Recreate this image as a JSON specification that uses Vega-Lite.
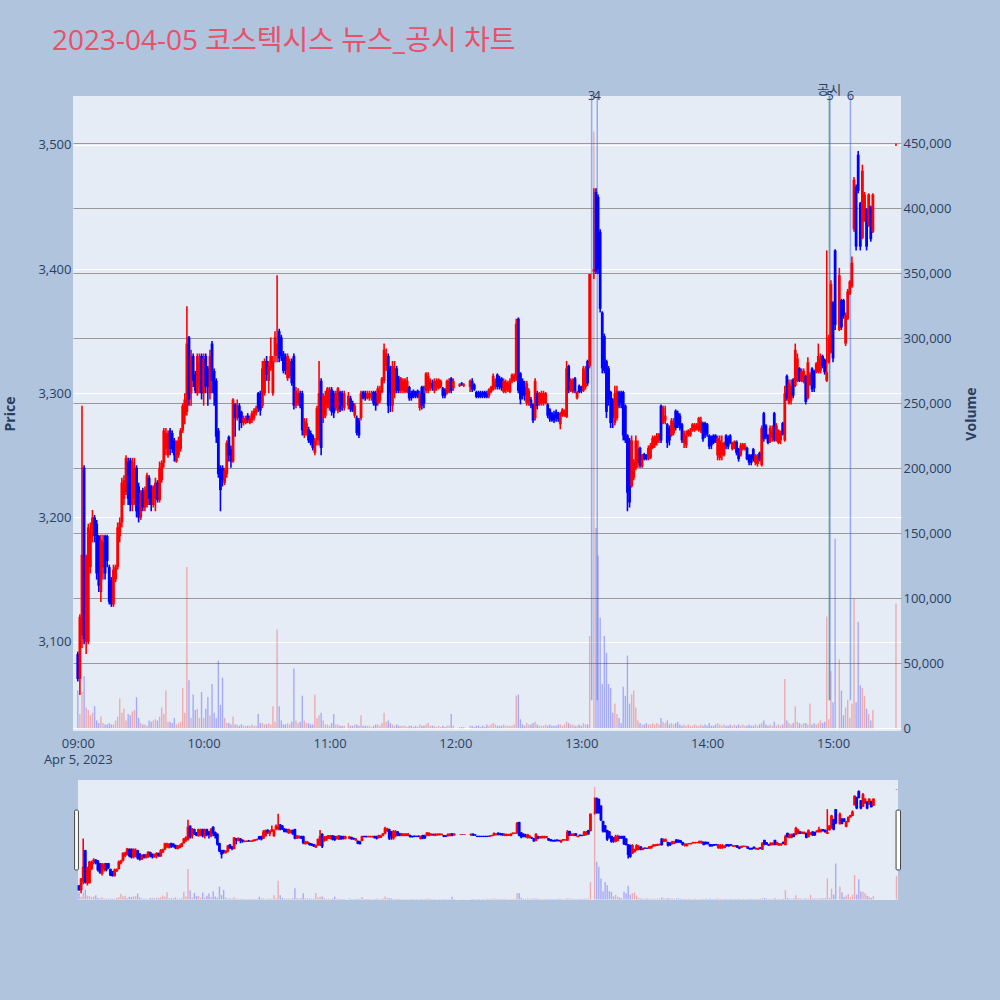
{
"$schema": "https://vega.github.io/schema/vega-lite/v6.json",
"background": "#b0c4de",
"padding": {"left": 3, "top": 28, "right": 30, "bottom": 110},
"title": {"text": "2023-04-05 코스텍시스 뉴스_공시 차트", "anchor": "start", "frame": "bounds", "fontSize": 28, "fontWeight": "normal", "color": "#e9506a", "font": "Open Sans, Noto Sans CJK KR", "offset": 28, "dx": 48},
"config": {"font": "Open Sans, Noto Sans CJK KR", "view": {"stroke": null}},
"data": {"values": [
{"t":"09:00","o":3090,"h":3092,"l":3068,"c":3070,"v":29000},
{"t":"09:01","o":3070,"h":3122,"l":3057,"c":3120,"v":11000},
{"t":"09:02","o":3105,"h":3290,"l":3095,"c":3170,"v":28000},
{"t":"09:03","o":3240,"h":3242,"l":3098,"c":3102,"v":40000},
{"t":"09:04","o":3100,"h":3170,"l":3090,"c":3168,"v":16000},
{"t":"09:05","o":3100,"h":3195,"l":3098,"c":3192,"v":14000},
{"t":"09:06","o":3160,"h":3196,"l":3155,"c":3190,"v":10000},
{"t":"09:07","o":3190,"h":3206,"l":3180,"c":3200,"v":12000},
{"t":"09:08","o":3200,"h":3202,"l":3180,"c":3185,"v":17000},
{"t":"09:09","o":3195,"h":3198,"l":3150,"c":3155,"v":6000},
{"t":"09:10","o":3185,"h":3186,"l":3140,"c":3145,"v":4000},
{"t":"09:11","o":3140,"h":3186,"l":3132,"c":3182,"v":9000},
{"t":"09:12","o":3160,"h":3186,"l":3150,"c":3180,"v":4000},
{"t":"09:13","o":3185,"h":3186,"l":3150,"c":3155,"v":3000},
{"t":"09:14","o":3185,"h":3186,"l":3160,"c":3165,"v":3000},
{"t":"09:15","o":3160,"h":3162,"l":3130,"c":3132,"v":4000},
{"t":"09:16","o":3150,"h":3152,"l":3128,"c":3130,"v":3000},
{"t":"09:17","o":3130,"h":3162,"l":3128,"c":3158,"v":3000},
{"t":"09:18","o":3150,"h":3162,"l":3148,"c":3160,"v":6000},
{"t":"09:19","o":3160,"h":3196,"l":3158,"c":3192,"v":9000},
{"t":"09:20","o":3185,"h":3200,"l":3180,"c":3196,"v":23000},
{"t":"09:21","o":3196,"h":3232,"l":3192,"c":3228,"v":12000},
{"t":"09:22","o":3215,"h":3234,"l":3210,"c":3230,"v":15000},
{"t":"09:23","o":3220,"h":3250,"l":3218,"c":3248,"v":6000},
{"t":"09:24","o":3245,"h":3248,"l":3210,"c":3215,"v":11000},
{"t":"09:25","o":3246,"h":3248,"l":3205,"c":3210,"v":10000},
{"t":"09:26","o":3210,"h":3248,"l":3205,"c":3245,"v":13000},
{"t":"09:27","o":3215,"h":3248,"l":3210,"c":3240,"v":14000},
{"t":"09:28","o":3240,"h":3242,"l":3200,"c":3205,"v":24000},
{"t":"09:29","o":3225,"h":3228,"l":3196,"c":3200,"v":8000},
{"t":"09:30","o":3200,"h":3222,"l":3198,"c":3220,"v":4000},
{"t":"09:31","o":3222,"h":3224,"l":3205,"c":3208,"v":3000},
{"t":"09:32","o":3208,"h":3225,"l":3205,"c":3222,"v":3000},
{"t":"09:33","o":3210,"h":3236,"l":3208,"c":3234,"v":2000},
{"t":"09:34","o":3232,"h":3234,"l":3210,"c":3215,"v":6000},
{"t":"09:35","o":3225,"h":3226,"l":3205,"c":3210,"v":5000},
{"t":"09:36","o":3210,"h":3226,"l":3208,"c":3224,"v":6000},
{"t":"09:37","o":3215,"h":3232,"l":3205,"c":3228,"v":7000},
{"t":"09:38","o":3228,"h":3230,"l":3212,"c":3214,"v":6000},
{"t":"09:39","o":3214,"h":3245,"l":3212,"c":3240,"v":9000},
{"t":"09:40","o":3230,"h":3246,"l":3228,"c":3244,"v":16000},
{"t":"09:41","o":3244,"h":3272,"l":3240,"c":3270,"v":11000},
{"t":"09:42","o":3255,"h":3272,"l":3250,"c":3268,"v":29000},
{"t":"09:43","o":3250,"h":3270,"l":3248,"c":3268,"v":5000},
{"t":"09:44","o":3270,"h":3272,"l":3250,"c":3255,"v":5000},
{"t":"09:45","o":3268,"h":3270,"l":3252,"c":3255,"v":4000},
{"t":"09:46","o":3262,"h":3264,"l":3245,"c":3250,"v":8000},
{"t":"09:47","o":3245,"h":3262,"l":3244,"c":3258,"v":3000},
{"t":"09:48","o":3250,"h":3265,"l":3248,"c":3262,"v":4000},
{"t":"09:49","o":3255,"h":3272,"l":3253,"c":3270,"v":5000},
{"t":"09:50","o":3270,"h":3292,"l":3268,"c":3290,"v":31000},
{"t":"09:51","o":3282,"h":3300,"l":3275,"c":3295,"v":12000},
{"t":"09:52","o":3285,"h":3370,"l":3282,"c":3340,"v":124000},
{"t":"09:53","o":3345,"h":3346,"l":3290,"c":3295,"v":37000},
{"t":"09:54","o":3300,"h":3335,"l":3290,"c":3330,"v":8000},
{"t":"09:55","o":3330,"h":3332,"l":3305,"c":3310,"v":26000},
{"t":"09:56","o":3315,"h":3318,"l":3300,"c":3302,"v":14000},
{"t":"09:57","o":3300,"h":3332,"l":3298,"c":3330,"v":15000},
{"t":"09:58","o":3305,"h":3332,"l":3300,"c":3325,"v":8000},
{"t":"09:59","o":3330,"h":3332,"l":3295,"c":3300,"v":28000},
{"t":"10:00","o":3300,"h":3332,"l":3290,"c":3328,"v":8000},
{"t":"10:01","o":3330,"h":3332,"l":3300,"c":3305,"v":15000},
{"t":"10:02","o":3320,"h":3322,"l":3290,"c":3305,"v":24000},
{"t":"10:03","o":3300,"h":3335,"l":3295,"c":3330,"v":10000},
{"t":"10:04","o":3340,"h":3342,"l":3300,"c":3310,"v":34000},
{"t":"10:05","o":3318,"h":3320,"l":3290,"c":3300,"v":12000},
{"t":"10:06","o":3310,"h":3312,"l":3260,"c":3265,"v":8000},
{"t":"10:07","o":3270,"h":3272,"l":3232,"c":3235,"v":52000},
{"t":"10:08","o":3240,"h":3242,"l":3205,"c":3222,"v":18000},
{"t":"10:09","o":3240,"h":3242,"l":3225,"c":3230,"v":39000},
{"t":"10:10","o":3228,"h":3240,"l":3226,"c":3238,"v":8000},
{"t":"10:11","o":3235,"h":3262,"l":3232,"c":3260,"v":4000},
{"t":"10:12","o":3265,"h":3266,"l":3245,"c":3250,"v":4000},
{"t":"10:13","o":3255,"h":3258,"l":3240,"c":3245,"v":3000},
{"t":"10:14","o":3245,"h":3296,"l":3244,"c":3295,"v":9000},
{"t":"10:15","o":3291,"h":3292,"l":3265,"c":3280,"v":3000},
{"t":"10:16","o":3280,"h":3295,"l":3278,"c":3290,"v":3000},
{"t":"10:17","o":3290,"h":3292,"l":3270,"c":3280,"v":2000},
{"t":"10:18","o":3285,"h":3286,"l":3272,"c":3276,"v":3000},
{"t":"10:19","o":3276,"h":3282,"l":3274,"c":3280,"v":2000},
{"t":"10:20","o":3276,"h":3282,"l":3275,"c":3280,"v":2000},
{"t":"10:21","o":3282,"h":3284,"l":3276,"c":3278,"v":2000},
{"t":"10:22","o":3276,"h":3282,"l":3275,"c":3280,"v":2000},
{"t":"10:23","o":3278,"h":3286,"l":3276,"c":3284,"v":3000},
{"t":"10:24","o":3280,"h":3288,"l":3278,"c":3286,"v":2000},
{"t":"10:25","o":3284,"h":3290,"l":3282,"c":3288,"v":2000},
{"t":"10:26","o":3300,"h":3301,"l":3285,"c":3288,"v":11000},
{"t":"10:27","o":3300,"h":3302,"l":3282,"c":3286,"v":4000},
{"t":"10:28","o":3290,"h":3326,"l":3288,"c":3320,"v":4000},
{"t":"10:29","o":3300,"h":3328,"l":3298,"c":3326,"v":3000},
{"t":"10:30","o":3326,"h":3330,"l":3310,"c":3315,"v":3000},
{"t":"10:31","o":3310,"h":3326,"l":3300,"c":3322,"v":4000},
{"t":"10:32","o":3320,"h":3345,"l":3318,"c":3330,"v":3000},
{"t":"10:33","o":3300,"h":3330,"l":3298,"c":3326,"v":17000},
{"t":"10:34","o":3330,"h":3350,"l":3325,"c":3345,"v":5000},
{"t":"10:35","o":3330,"h":3395,"l":3325,"c":3340,"v":76000},
{"t":"10:36","o":3350,"h":3352,"l":3325,"c":3328,"v":17000},
{"t":"10:37","o":3345,"h":3347,"l":3326,"c":3330,"v":6000},
{"t":"10:38","o":3332,"h":3334,"l":3316,"c":3318,"v":3000},
{"t":"10:39","o":3330,"h":3332,"l":3315,"c":3318,"v":3000},
{"t":"10:40","o":3312,"h":3332,"l":3310,"c":3330,"v":4000},
{"t":"10:41","o":3314,"h":3328,"l":3312,"c":3326,"v":3000},
{"t":"10:42","o":3326,"h":3328,"l":3306,"c":3308,"v":5000},
{"t":"10:43","o":3330,"h":3332,"l":3287,"c":3290,"v":46000},
{"t":"10:44","o":3290,"h":3305,"l":3288,"c":3302,"v":6000},
{"t":"10:45","o":3292,"h":3304,"l":3290,"c":3300,"v":4000},
{"t":"10:46","o":3300,"h":3302,"l":3288,"c":3290,"v":5000},
{"t":"10:47","o":3300,"h":3302,"l":3266,"c":3270,"v":25000},
{"t":"10:48","o":3266,"h":3280,"l":3264,"c":3278,"v":6000},
{"t":"10:49","o":3268,"h":3280,"l":3266,"c":3276,"v":4000},
{"t":"10:50","o":3271,"h":3273,"l":3260,"c":3262,"v":4000},
{"t":"10:51","o":3268,"h":3270,"l":3258,"c":3260,"v":3000},
{"t":"10:52","o":3266,"h":3267,"l":3254,"c":3256,"v":3000},
{"t":"10:53","o":3252,"h":3264,"l":3250,"c":3262,"v":26000},
{"t":"10:54","o":3262,"h":3290,"l":3258,"c":3288,"v":8000},
{"t":"10:55","o":3262,"h":3326,"l":3258,"c":3300,"v":10000},
{"t":"10:56","o":3310,"h":3312,"l":3250,"c":3256,"v":12000},
{"t":"10:57","o":3280,"h":3300,"l":3276,"c":3298,"v":6000},
{"t":"10:58","o":3282,"h":3302,"l":3280,"c":3298,"v":3000},
{"t":"10:59","o":3290,"h":3305,"l":3288,"c":3304,"v":3000},
{"t":"11:00","o":3288,"h":3305,"l":3286,"c":3302,"v":2000},
{"t":"11:01","o":3303,"h":3305,"l":3282,"c":3285,"v":4000},
{"t":"11:02","o":3300,"h":3302,"l":3280,"c":3284,"v":11000},
{"t":"11:03","o":3288,"h":3302,"l":3286,"c":3300,"v":3000},
{"t":"11:04","o":3286,"h":3305,"l":3284,"c":3304,"v":3000},
{"t":"11:05","o":3301,"h":3302,"l":3285,"c":3287,"v":2000},
{"t":"11:06","o":3300,"h":3302,"l":3286,"c":3290,"v":2000},
{"t":"11:07","o":3288,"h":3302,"l":3286,"c":3300,"v":2000},
{"t":"11:09","o":3290,"h":3301,"l":3287,"c":3298,"v":4000},
{"t":"11:10","o":3296,"h":3298,"l":3285,"c":3287,"v":2000},
{"t":"11:11","o":3292,"h":3294,"l":3285,"c":3286,"v":2000},
{"t":"11:12","o":3282,"h":3292,"l":3280,"c":3290,"v":3000},
{"t":"11:13","o":3280,"h":3282,"l":3266,"c":3268,"v":3000},
{"t":"11:14","o":3278,"h":3280,"l":3264,"c":3266,"v":2000},
{"t":"11:15","o":3280,"h":3302,"l":3278,"c":3300,"v":10000},
{"t":"11:16","o":3301,"h":3302,"l":3295,"c":3296,"v":2000},
{"t":"11:17","o":3300,"h":3302,"l":3294,"c":3296,"v":2000},
{"t":"11:18","o":3296,"h":3302,"l":3295,"c":3300,"v":2000},
{"t":"11:19","o":3296,"h":3302,"l":3294,"c":3300,"v":2000},
{"t":"11:20","o":3298,"h":3302,"l":3294,"c":3300,"v":1000},
{"t":"11:21","o":3301,"h":3302,"l":3290,"c":3292,"v":2000},
{"t":"11:22","o":3300,"h":3302,"l":3286,"c":3290,"v":3000},
{"t":"11:23","o":3292,"h":3306,"l":3290,"c":3304,"v":3000},
{"t":"11:24","o":3294,"h":3306,"l":3292,"c":3302,"v":2000},
{"t":"11:25","o":3301,"h":3313,"l":3300,"c":3312,"v":4000},
{"t":"11:26","o":3310,"h":3340,"l":3308,"c":3335,"v":12000},
{"t":"11:27","o":3322,"h":3336,"l":3318,"c":3332,"v":5000},
{"t":"11:28","o":3330,"h":3332,"l":3284,"c":3290,"v":6000},
{"t":"11:29","o":3320,"h":3322,"l":3285,"c":3300,"v":4000},
{"t":"11:30","o":3290,"h":3326,"l":3285,"c":3322,"v":3000},
{"t":"11:31","o":3300,"h":3326,"l":3296,"c":3320,"v":2000},
{"t":"11:32","o":3320,"h":3322,"l":3300,"c":3302,"v":3000},
{"t":"11:33","o":3312,"h":3314,"l":3300,"c":3302,"v":2000},
{"t":"11:34","o":3302,"h":3313,"l":3300,"c":3312,"v":2000},
{"t":"11:35","o":3302,"h":3312,"l":3300,"c":3310,"v":2000},
{"t":"11:36","o":3301,"h":3312,"l":3300,"c":3311,"v":2000},
{"t":"11:37","o":3301,"h":3313,"l":3300,"c":3310,"v":1000},
{"t":"11:38","o":3305,"h":3306,"l":3294,"c":3296,"v":2000},
{"t":"11:39","o":3300,"h":3302,"l":3294,"c":3296,"v":2000},
{"t":"11:40","o":3302,"h":3303,"l":3296,"c":3297,"v":1000},
{"t":"11:41","o":3301,"h":3302,"l":3296,"c":3298,"v":2000},
{"t":"11:42","o":3302,"h":3303,"l":3296,"c":3297,"v":1000},
{"t":"11:43","o":3288,"h":3302,"l":3286,"c":3300,"v":3000},
{"t":"11:44","o":3305,"h":3306,"l":3287,"c":3290,"v":2000},
{"t":"11:45","o":3300,"h":3306,"l":3288,"c":3292,"v":2000},
{"t":"11:46","o":3302,"h":3317,"l":3300,"c":3316,"v":3000},
{"t":"11:47","o":3302,"h":3317,"l":3300,"c":3314,"v":4000},
{"t":"11:48","o":3304,"h":3312,"l":3302,"c":3310,"v":2000},
{"t":"11:49","o":3308,"h":3311,"l":3302,"c":3304,"v":2000},
{"t":"11:50","o":3302,"h":3312,"l":3300,"c":3310,"v":2000},
{"t":"11:51","o":3304,"h":3312,"l":3302,"c":3310,"v":1000},
{"t":"11:52","o":3304,"h":3312,"l":3303,"c":3311,"v":2000},
{"t":"11:53","o":3305,"h":3311,"l":3304,"c":3310,"v":1000},
{"t":"11:54","o":3304,"h":3305,"l":3296,"c":3298,"v":2000},
{"t":"11:55","o":3303,"h":3304,"l":3296,"c":3298,"v":1000},
{"t":"11:56","o":3300,"h":3311,"l":3299,"c":3310,"v":2000},
{"t":"11:57","o":3301,"h":3312,"l":3300,"c":3310,"v":2000},
{"t":"11:58","o":3312,"h":3313,"l":3300,"c":3302,"v":11000},
{"t":"11:59","o":3304,"h":3312,"l":3302,"c":3310,"v":2000},
{"t":"12:02","o":3306,"h":3308,"l":3305,"c":3307,"v":1000},
{"t":"12:03","o":3308,"h":3309,"l":3306,"c":3307,"v":1000},
{"t":"12:04","o":3306,"h":3308,"l":3305,"c":3307,"v":1000},
{"t":"12:07","o":3305,"h":3311,"l":3301,"c":3310,"v":2000},
{"t":"12:08","o":3310,"h":3312,"l":3301,"c":3303,"v":2000},
{"t":"12:09","o":3307,"h":3308,"l":3302,"c":3303,"v":1000},
{"t":"12:10","o":3301,"h":3302,"l":3296,"c":3297,"v":2000},
{"t":"12:11","o":3301,"h":3302,"l":3296,"c":3297,"v":2000},
{"t":"12:12","o":3300,"h":3302,"l":3296,"c":3297,"v":1000},
{"t":"12:13","o":3301,"h":3302,"l":3296,"c":3298,"v":2000},
{"t":"12:14","o":3301,"h":3302,"l":3296,"c":3297,"v":1000},
{"t":"12:15","o":3300,"h":3302,"l":3296,"c":3297,"v":3000},
{"t":"12:16","o":3298,"h":3304,"l":3296,"c":3303,"v":2000},
{"t":"12:17","o":3301,"h":3306,"l":3300,"c":3305,"v":3000},
{"t":"12:18","o":3303,"h":3316,"l":3302,"c":3314,"v":4000},
{"t":"12:19","o":3305,"h":3312,"l":3303,"c":3310,"v":3000},
{"t":"12:20","o":3315,"h":3316,"l":3303,"c":3305,"v":2000},
{"t":"12:21","o":3312,"h":3314,"l":3303,"c":3305,"v":2000},
{"t":"12:22","o":3312,"h":3313,"l":3302,"c":3304,"v":2000},
{"t":"12:23","o":3301,"h":3312,"l":3300,"c":3310,"v":3000},
{"t":"12:24","o":3302,"h":3311,"l":3300,"c":3309,"v":2000},
{"t":"12:25","o":3303,"h":3310,"l":3301,"c":3308,"v":2000},
{"t":"12:26","o":3301,"h":3312,"l":3300,"c":3310,"v":2000},
{"t":"12:27","o":3310,"h":3316,"l":3308,"c":3315,"v":2000},
{"t":"12:28","o":3310,"h":3316,"l":3309,"c":3314,"v":3000},
{"t":"12:29","o":3312,"h":3360,"l":3310,"c":3356,"v":25000},
{"t":"12:30","o":3360,"h":3361,"l":3300,"c":3302,"v":26000},
{"t":"12:31","o":3316,"h":3317,"l":3291,"c":3295,"v":7000},
{"t":"12:32","o":3310,"h":3312,"l":3295,"c":3298,"v":3000},
{"t":"12:33","o":3305,"h":3310,"l":3294,"c":3298,"v":2000},
{"t":"12:34","o":3292,"h":3310,"l":3290,"c":3308,"v":4000},
{"t":"12:35","o":3294,"h":3304,"l":3290,"c":3302,"v":3000},
{"t":"12:36","o":3295,"h":3297,"l":3288,"c":3290,"v":3000},
{"t":"12:37","o":3291,"h":3292,"l":3276,"c":3278,"v":4000},
{"t":"12:38","o":3280,"h":3312,"l":3278,"c":3310,"v":5000},
{"t":"12:39","o":3300,"h":3302,"l":3287,"c":3290,"v":3000},
{"t":"12:40","o":3291,"h":3301,"l":3290,"c":3300,"v":2000},
{"t":"12:41","o":3292,"h":3302,"l":3290,"c":3300,"v":2000},
{"t":"12:42","o":3292,"h":3302,"l":3290,"c":3300,"v":2000},
{"t":"12:43","o":3292,"h":3301,"l":3291,"c":3300,"v":3000},
{"t":"12:44","o":3291,"h":3292,"l":3280,"c":3282,"v":2000},
{"t":"12:45","o":3287,"h":3288,"l":3277,"c":3279,"v":3000},
{"t":"12:46","o":3284,"h":3285,"l":3277,"c":3278,"v":2000},
{"t":"12:47","o":3283,"h":3286,"l":3276,"c":3278,"v":2000},
{"t":"12:48","o":3285,"h":3287,"l":3277,"c":3280,"v":2000},
{"t":"12:49","o":3284,"h":3285,"l":3277,"c":3279,"v":3000},
{"t":"12:50","o":3275,"h":3285,"l":3271,"c":3284,"v":3000},
{"t":"12:51","o":3282,"h":3288,"l":3281,"c":3287,"v":2000},
{"t":"12:52","o":3282,"h":3287,"l":3281,"c":3286,"v":3000},
{"t":"12:53","o":3281,"h":3326,"l":3280,"c":3320,"v":5000},
{"t":"12:54","o":3322,"h":3323,"l":3300,"c":3302,"v":4000},
{"t":"12:55","o":3302,"h":3312,"l":3301,"c":3310,"v":3000},
{"t":"12:56","o":3301,"h":3312,"l":3300,"c":3311,"v":3000},
{"t":"12:57","o":3312,"h":3313,"l":3300,"c":3302,"v":2000},
{"t":"12:58","o":3296,"h":3302,"l":3295,"c":3301,"v":2000},
{"t":"12:59","o":3306,"h":3307,"l":3300,"c":3301,"v":3000},
{"t":"13:00","o":3305,"h":3306,"l":3300,"c":3302,"v":2000},
{"t":"13:01","o":3302,"h":3322,"l":3301,"c":3320,"v":4000},
{"t":"13:02","o":3305,"h":3322,"l":3303,"c":3318,"v":3000},
{"t":"13:03","o":3326,"h":3327,"l":3306,"c":3308,"v":3000},
{"t":"13:04","o":3322,"h":3396,"l":3320,"c":3396,"v":71000},
{"t":"13:06","o":3398,"h":3465,"l":3392,"c":3400,"v":459000},
{"t":"13:07","o":3462,"h":3465,"l":3396,"c":3398,"v":154000},
{"t":"13:08","o":3458,"h":3460,"l":3396,"c":3400,"v":133000},
{"t":"13:09","o":3430,"h":3432,"l":3365,"c":3368,"v":85000},
{"t":"13:10","o":3365,"h":3366,"l":3316,"c":3320,"v":34000},
{"t":"13:11","o":3346,"h":3348,"l":3316,"c":3318,"v":71000},
{"t":"13:12","o":3326,"h":3327,"l":3280,"c":3285,"v":58000},
{"t":"13:13","o":3320,"h":3322,"l":3290,"c":3295,"v":34000},
{"t":"13:14","o":3301,"h":3302,"l":3272,"c":3276,"v":31000},
{"t":"13:15","o":3295,"h":3296,"l":3272,"c":3280,"v":12000},
{"t":"13:16","o":3276,"h":3306,"l":3274,"c":3300,"v":19000},
{"t":"13:17","o":3280,"h":3306,"l":3278,"c":3302,"v":11000},
{"t":"13:18","o":3301,"h":3302,"l":3288,"c":3290,"v":8000},
{"t":"13:19","o":3300,"h":3302,"l":3288,"c":3292,"v":4000},
{"t":"13:20","o":3301,"h":3302,"l":3262,"c":3266,"v":32000},
{"t":"13:21","o":3290,"h":3291,"l":3260,"c":3262,"v":25000},
{"t":"13:22","o":3266,"h":3267,"l":3205,"c":3220,"v":56000},
{"t":"13:23","o":3262,"h":3264,"l":3208,"c":3212,"v":19000},
{"t":"13:24","o":3225,"h":3266,"l":3224,"c":3262,"v":26000},
{"t":"13:25","o":3232,"h":3247,"l":3230,"c":3245,"v":29000},
{"t":"13:26","o":3240,"h":3266,"l":3238,"c":3262,"v":16000},
{"t":"13:27","o":3244,"h":3262,"l":3240,"c":3255,"v":6000},
{"t":"13:28","o":3256,"h":3257,"l":3240,"c":3242,"v":4000},
{"t":"13:29","o":3241,"h":3251,"l":3240,"c":3250,"v":3000},
{"t":"13:30","o":3251,"h":3252,"l":3246,"c":3247,"v":3000},
{"t":"13:31","o":3250,"h":3251,"l":3246,"c":3247,"v":4000},
{"t":"13:32","o":3247,"h":3258,"l":3246,"c":3256,"v":3000},
{"t":"13:33","o":3248,"h":3260,"l":3247,"c":3258,"v":3000},
{"t":"13:34","o":3256,"h":3266,"l":3255,"c":3264,"v":4000},
{"t":"13:35","o":3258,"h":3266,"l":3256,"c":3265,"v":3000},
{"t":"13:36","o":3260,"h":3268,"l":3258,"c":3266,"v":4000},
{"t":"13:37","o":3262,"h":3268,"l":3260,"c":3267,"v":3000},
{"t":"13:38","o":3290,"h":3291,"l":3260,"c":3262,"v":8000},
{"t":"13:39","o":3276,"h":3290,"l":3275,"c":3288,"v":5000},
{"t":"13:40","o":3278,"h":3290,"l":3275,"c":3282,"v":4000},
{"t":"13:41","o":3275,"h":3276,"l":3256,"c":3260,"v":6000},
{"t":"13:42","o":3272,"h":3274,"l":3258,"c":3262,"v":3000},
{"t":"13:43","o":3266,"h":3280,"l":3265,"c":3278,"v":4000},
{"t":"13:44","o":3268,"h":3280,"l":3266,"c":3276,"v":3000},
{"t":"13:45","o":3286,"h":3287,"l":3270,"c":3272,"v":4000},
{"t":"13:46","o":3284,"h":3286,"l":3272,"c":3274,"v":5000},
{"t":"13:47","o":3282,"h":3284,"l":3270,"c":3272,"v":3000},
{"t":"13:48","o":3275,"h":3276,"l":3260,"c":3262,"v":2000},
{"t":"13:49","o":3260,"h":3270,"l":3256,"c":3268,"v":3000},
{"t":"13:50","o":3258,"h":3270,"l":3256,"c":3266,"v":2000},
{"t":"13:51","o":3266,"h":3271,"l":3265,"c":3270,"v":3000},
{"t":"13:52","o":3266,"h":3272,"l":3265,"c":3270,"v":2000},
{"t":"13:53","o":3270,"h":3276,"l":3269,"c":3275,"v":2000},
{"t":"13:54","o":3270,"h":3276,"l":3269,"c":3274,"v":3000},
{"t":"13:55","o":3271,"h":3276,"l":3270,"c":3275,"v":2000},
{"t":"13:56","o":3270,"h":3281,"l":3269,"c":3280,"v":2000},
{"t":"13:57","o":3270,"h":3281,"l":3268,"c":3278,"v":3000},
{"t":"13:58","o":3276,"h":3277,"l":3261,"c":3263,"v":2000},
{"t":"13:59","o":3276,"h":3277,"l":3264,"c":3266,"v":3000},
{"t":"14:00","o":3275,"h":3276,"l":3265,"c":3267,"v":2000},
{"t":"14:01","o":3266,"h":3267,"l":3255,"c":3257,"v":4000},
{"t":"14:02","o":3265,"h":3266,"l":3255,"c":3258,"v":2000},
{"t":"14:03","o":3266,"h":3267,"l":3259,"c":3260,"v":2000},
{"t":"14:04","o":3266,"h":3267,"l":3260,"c":3261,"v":3000},
{"t":"14:05","o":3250,"h":3266,"l":3246,"c":3264,"v":4000},
{"t":"14:06","o":3248,"h":3266,"l":3246,"c":3262,"v":3000},
{"t":"14:07","o":3250,"h":3266,"l":3246,"c":3260,"v":2000},
{"t":"14:08","o":3250,"h":3261,"l":3249,"c":3260,"v":3000},
{"t":"14:09","o":3266,"h":3267,"l":3255,"c":3258,"v":2000},
{"t":"14:10","o":3264,"h":3266,"l":3255,"c":3257,"v":2000},
{"t":"14:11","o":3266,"h":3267,"l":3259,"c":3260,"v":3000},
{"t":"14:12","o":3255,"h":3261,"l":3254,"c":3260,"v":2000},
{"t":"14:13","o":3256,"h":3262,"l":3255,"c":3261,"v":3000},
{"t":"14:14","o":3261,"h":3262,"l":3250,"c":3252,"v":2000},
{"t":"14:15","o":3255,"h":3256,"l":3245,"c":3247,"v":3000},
{"t":"14:16","o":3250,"h":3260,"l":3249,"c":3258,"v":2000},
{"t":"14:17","o":3255,"h":3260,"l":3254,"c":3259,"v":3000},
{"t":"14:18","o":3255,"h":3260,"l":3254,"c":3258,"v":2000},
{"t":"14:19","o":3256,"h":3257,"l":3246,"c":3247,"v":2000},
{"t":"14:20","o":3250,"h":3251,"l":3242,"c":3244,"v":3000},
{"t":"14:21","o":3250,"h":3251,"l":3242,"c":3244,"v":2000},
{"t":"14:22","o":3255,"h":3256,"l":3245,"c":3247,"v":2000},
{"t":"14:23","o":3244,"h":3251,"l":3242,"c":3250,"v":3000},
{"t":"14:24","o":3243,"h":3251,"l":3241,"c":3250,"v":2000},
{"t":"14:25","o":3252,"h":3253,"l":3245,"c":3246,"v":3000},
{"t":"14:26","o":3242,"h":3274,"l":3241,"c":3272,"v":4000},
{"t":"14:27","o":3284,"h":3285,"l":3261,"c":3263,"v":6000},
{"t":"14:28","o":3274,"h":3275,"l":3263,"c":3265,"v":3000},
{"t":"14:29","o":3266,"h":3267,"l":3259,"c":3260,"v":2000},
{"t":"14:30","o":3261,"h":3274,"l":3260,"c":3272,"v":3000},
{"t":"14:31","o":3264,"h":3274,"l":3261,"c":3270,"v":2000},
{"t":"14:32","o":3284,"h":3285,"l":3261,"c":3262,"v":5000},
{"t":"14:33","o":3262,"h":3276,"l":3261,"c":3274,"v":2000},
{"t":"14:34","o":3260,"h":3271,"l":3259,"c":3270,"v":3000},
{"t":"14:35","o":3262,"h":3270,"l":3259,"c":3268,"v":2000},
{"t":"14:36","o":3276,"h":3277,"l":3266,"c":3267,"v":3000},
{"t":"14:37","o":3262,"h":3306,"l":3261,"c":3300,"v":38000},
{"t":"14:38","o":3314,"h":3315,"l":3294,"c":3296,"v":6000},
{"t":"14:39","o":3292,"h":3311,"l":3291,"c":3308,"v":4000},
{"t":"14:40","o":3294,"h":3311,"l":3291,"c":3306,"v":3000},
{"t":"14:41","o":3311,"h":3312,"l":3296,"c":3298,"v":4000},
{"t":"14:42","o":3306,"h":3340,"l":3305,"c":3335,"v":17000},
{"t":"14:43","o":3310,"h":3332,"l":3309,"c":3328,"v":5000},
{"t":"14:44","o":3320,"h":3321,"l":3309,"c":3310,"v":4000},
{"t":"14:45","o":3310,"h":3320,"l":3309,"c":3318,"v":3000},
{"t":"14:46","o":3309,"h":3320,"l":3308,"c":3318,"v":4000},
{"t":"14:47","o":3314,"h":3315,"l":3291,"c":3293,"v":4000},
{"t":"14:48","o":3296,"h":3329,"l":3295,"c":3325,"v":3000},
{"t":"14:49","o":3307,"h":3317,"l":3306,"c":3315,"v":19000},
{"t":"14:50","o":3320,"h":3321,"l":3301,"c":3303,"v":3000},
{"t":"14:51","o":3318,"h":3319,"l":3301,"c":3304,"v":4000},
{"t":"14:52","o":3317,"h":3325,"l":3316,"c":3324,"v":3000},
{"t":"14:53","o":3317,"h":3340,"l":3316,"c":3330,"v":4000},
{"t":"14:54","o":3318,"h":3332,"l":3316,"c":3328,"v":6000},
{"t":"14:55","o":3330,"h":3331,"l":3320,"c":3322,"v":4000},
{"t":"14:56","o":3327,"h":3328,"l":3315,"c":3317,"v":5000},
{"t":"14:57","o":3310,"h":3415,"l":3309,"c":3317,"v":86000},
{"t":"14:58","o":3325,"h":3347,"l":3324,"c":3345,"v":7000},
{"t":"14:59","o":3333,"h":3391,"l":3332,"c":3388,"v":44000},
{"t":"15:00","o":3373,"h":3374,"l":3325,"c":3328,"v":20000},
{"t":"15:01","o":3415,"h":3416,"l":3351,"c":3355,"v":146000},
{"t":"15:03","o":3351,"h":3401,"l":3350,"c":3395,"v":53000},
{"t":"15:04","o":3375,"h":3376,"l":3351,"c":3353,"v":29000},
{"t":"15:05","o":3375,"h":3376,"l":3360,"c":3362,"v":10000},
{"t":"15:06","o":3340,"h":3365,"l":3338,"c":3363,"v":16000},
{"t":"15:07","o":3360,"h":3384,"l":3359,"c":3382,"v":22000},
{"t":"15:08","o":3380,"h":3391,"l":3379,"c":3390,"v":8000},
{"t":"15:09","o":3386,"h":3410,"l":3385,"c":3405,"v":19000},
{"t":"15:10","o":3432,"h":3474,"l":3430,"c":3472,"v":100000},
{"t":"15:11","o":3466,"h":3468,"l":3415,"c":3418,"v":20000},
{"t":"15:12","o":3492,"h":3495,"l":3461,"c":3463,"v":82000},
{"t":"15:13","o":3453,"h":3454,"l":3415,"c":3418,"v":33000},
{"t":"15:14","o":3425,"h":3484,"l":3424,"c":3479,"v":31000},
{"t":"15:15","o":3439,"h":3462,"l":3438,"c":3460,"v":25000},
{"t":"15:16","o":3448,"h":3449,"l":3415,"c":3418,"v":15000},
{"t":"15:17","o":3435,"h":3461,"l":3434,"c":3460,"v":11000},
{"t":"15:18","o":3450,"h":3451,"l":3422,"c":3424,"v":6000},
{"t":"15:19","o":3430,"h":3461,"l":3429,"c":3460,"v":14000},
{"t":"15:30","o":3500,"h":3501,"l":3499,"c":3500,"v":96000}
], "format": {"parse": {"t": "utc:'%H:%M'"}}},
"spacing": 49,
"bounds": "flush",
"vconcat": [
{
"width": 828, "height": 635,
"view": {"fill": "#e5ecf6", "stroke": null},
"layer": [
{"layer": [
 {"mark": {"type": "bar", "size": 1.4, "opacity": 0.28},
  "encoding": {
   "x": {"field": "t", "type": "temporal",
     "scale": {"type": "utc", "nice": false, "padding": 0, "domain": [{"utc": true, "year": 1900, "month": 1, "date": 1, "hours": 8, "minutes": 57, "seconds": 43}, {"utc": true, "year": 1900, "month": 1, "date": 1, "hours": 15, "minutes": 32, "seconds": 24}]},
     "axis": {"orient": "bottom", "grid": false, "domain": false, "ticks": false, "labelPadding": 6, "labelFontSize": 13, "labelColor": "#2a3f5f", "labelLineHeight": 16, "title": null, "labelFlush": false, "labelOverlap": false,
       "values": [{"utc": true, "year": 1900, "month": 1, "date": 1, "hours": 9}, {"utc": true, "year": 1900, "month": 1, "date": 1, "hours": 10}, {"utc": true, "year": 1900, "month": 1, "date": 1, "hours": 11}, {"utc": true, "year": 1900, "month": 1, "date": 1, "hours": 12}, {"utc": true, "year": 1900, "month": 1, "date": 1, "hours": 13}, {"utc": true, "year": 1900, "month": 1, "date": 1, "hours": 14}, {"utc": true, "year": 1900, "month": 1, "date": 1, "hours": 15}],
       "labelExpr": "utchours(datum.value) == 9 ? [utcFormat(datum.value, '%H:%M'), 'Apr 5, 2023'] : utcFormat(datum.value, '%H:%M')"}},
   "y": {"field": "v", "type": "quantitative",
     "scale": {"domain": [-2077, 486385], "nice": false, "zero": false},
     "axis": {"orient": "right", "values": [0, 50000, 100000, 150000, 200000, 250000, 300000, 350000, 400000, 450000], "format": ",d", "grid": true,
       "gridColor": {"condition": {"test": "datum.value === 0", "value": "#ffffff"}, "value": "#999999"}, "gridWidth": 1.2,
       "domain": false, "ticks": false, "labelPadding": 2, "labelFontSize": 13, "labelColor": "#2a3f5f",
       "title": "Volume", "titleFontSize": 14, "titleFontWeight": "bold", "titleColor": "#2a3f5f", "titleAngle": 270, "titleBaseline": "top", "titlePadding": 14}},
   "color": {"condition": {"test": "datum.c >= datum.o", "value": "#ff0000"}, "value": "#0000ff"}
  }},
 {"data": {"values": [{"t": "13:04:57", "n": "3"}, {"t": "13:07:37", "n": "4"}, {"t": "14:58:32", "n": "5"}, {"t": "15:08:18", "n": "6"}], "format": {"parse": {"t": "utc:'%H:%M:%S'"}}},
  "layer": [
   {"mark": {"type": "rule", "color": "#4169e1", "opacity": 0.5, "strokeWidth": 1.5},
    "encoding": {"x": {"field": "t", "type": "temporal"}, "y": {"datum": 21500, "type": "quantitative"}, "y2": {"datum": 486385}}},
   {"mark": {"type": "text", "baseline": "middle", "align": "center", "fontSize": 13, "color": "#2a3f5f"},
    "encoding": {"x": {"field": "t", "type": "temporal"}, "y": {"datum": 486385, "type": "quantitative"}, "text": {"field": "n"}}}
  ]},
 {"data": {"values": [{"t": "14:58:12", "n": "공시"}], "format": {"parse": {"t": "utc:'%H:%M:%S'"}}},
  "layer": [
   {"mark": {"type": "rule", "color": "#2e8b57", "opacity": 0.5, "strokeWidth": 1.5},
    "encoding": {"x": {"field": "t", "type": "temporal"}, "y": {"datum": 21500, "type": "quantitative"}, "y2": {"datum": 486385}}},
   {"mark": {"type": "text", "baseline": "middle", "align": "center", "fontSize": 13, "dy": -6, "color": "#2a3f5f"},
    "encoding": {"x": {"field": "t", "type": "temporal"}, "y": {"datum": 486385, "type": "quantitative"}, "text": {"field": "n"}}}
  ]}
]},
{"layer": [
 {"mark": {"type": "rule", "strokeWidth": 1.6},
  "encoding": {
   "x": {"field": "t", "type": "temporal"},
   "y": {"field": "l", "type": "quantitative",
     "scale": {"domain": [3028.1, 3539.3], "nice": false, "zero": false},
     "axis": {"orient": "left", "values": [3100, 3200, 3300, 3400, 3500], "format": ",d", "grid": true, "gridColor": "#ffffff", "gridWidth": 1,
       "domain": false, "ticks": false, "labelPadding": 2, "labelFontSize": 13, "labelColor": "#2a3f5f",
       "title": "Price", "titleFontSize": 14, "titleFontWeight": "bold", "titleColor": "#2a3f5f", "titlePadding": 20}},
   "y2": {"field": "h"},
   "color": {"condition": {"test": "datum.c >= datum.o", "value": "#ff0000"}, "value": "#0000ff"}
  }},
 {"mark": {"type": "bar", "size": 2.8},
  "encoding": {
   "x": {"field": "t", "type": "temporal"},
   "y": {"field": "o", "type": "quantitative"},
   "y2": {"field": "c"},
   "color": {"condition": {"test": "datum.c >= datum.o", "value": "#ff0000"}, "value": "#0000ff"}
  }}
]}
],
"resolve": {"scale": {"y": "independent"}}
},
{
"width": 828, "height": 120,
"view": {"fill": null, "stroke": null},
"layer": [
 {"data": {"values": [{"a": "08:59:31", "b": "15:30:43"}], "format": {"parse": {"a": "utc:'%H:%M:%S'", "b": "utc:'%H:%M:%S'"}}},
  "mark": {"type": "rect", "color": "#e5ecf6"},
  "encoding": {
   "x": {"field": "a", "type": "temporal", "axis": null,
     "scale": {"type": "utc", "nice": false, "padding": 0, "domain": [{"utc": true, "year": 1900, "month": 1, "date": 1, "hours": 8, "minutes": 57, "seconds": 8}, {"utc": true, "year": 1900, "month": 1, "date": 1, "hours": 15, "minutes": 32, "seconds": 9}]}},
   "x2": {"field": "b"}}},
 {"mark": {"type": "bar", "size": 1.4, "opacity": 0.28},
  "encoding": {
   "x": {"field": "t", "type": "temporal"},
   "y": {"field": "v", "type": "quantitative", "scale": {"domain": [-2077, 486385], "nice": false, "zero": false}, "axis": null},
   "color": {"condition": {"test": "datum.c >= datum.o", "value": "#ff0000"}, "value": "#0000ff"}}},
 {"layer": [
  {"mark": {"type": "rule", "strokeWidth": 1.6},
   "encoding": {
    "x": {"field": "t", "type": "temporal"},
    "y": {"field": "l", "type": "quantitative", "scale": {"domain": [3028.1, 3539.3], "nice": false, "zero": false}, "axis": null},
    "y2": {"field": "h"},
    "color": {"condition": {"test": "datum.c >= datum.o", "value": "#ff0000"}, "value": "#0000ff"}}},
  {"mark": {"type": "bar", "size": 2.8},
   "encoding": {
    "x": {"field": "t", "type": "temporal"},
    "y": {"field": "o", "type": "quantitative"},
    "y2": {"field": "c"},
    "color": {"condition": {"test": "datum.c >= datum.o", "value": "#ff0000"}, "value": "#0000ff"}}},
  {"data": {"values": [{"a": "08:57:54", "b": "08:59:43"}, {"a": "15:29:48", "b": "15:31:55"}], "format": {"parse": {"a": "utc:'%H:%M:%S'", "b": "utc:'%H:%M:%S'"}}},
   "mark": {"type": "rect", "fill": "#ffffff", "stroke": "#444444", "strokeWidth": 1, "cornerRadius": 1},
   "encoding": {
    "x": {"field": "a", "type": "temporal"},
    "x2": {"field": "b"},
    "y": {"datum": 3156, "type": "quantitative"},
    "y2": {"datum": 3411}}}
 ]}
],
"resolve": {"scale": {"y": "independent"}}
}
]
}
